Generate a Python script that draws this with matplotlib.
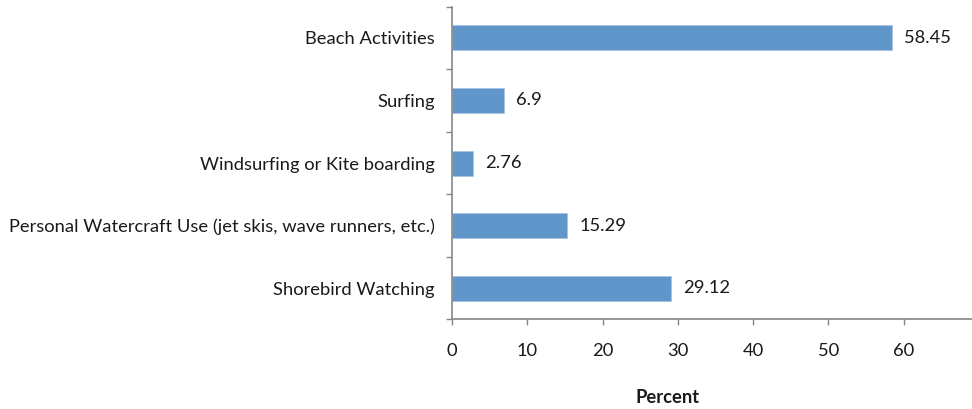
import matplotlib
matplotlib.use("Agg")
import matplotlib.pyplot as plt

# categories listed bottom to top
categories = [
    "Shorebird Watching",
    "Personal Watercraft Use (jet skis, wave runners, etc.)",
    "Windsurfing or Kite boarding",
    "Surfing",
    "Beach Activities",
]
values = [29.12, 15.29, 2.76, 6.9, 58.45]
value_labels = ["29.12", "15.29", "2.76", "6.9", "58.45"]
x_ticks = [0, 10, 20, 30, 40, 50, 60]

plt.rcParams['font.family'] = ['Lato', 'DejaVu Sans']
plt.rcParams['font.size'] = 13.2

bar_color = '#6096C9'
axis_color = '#868686'
text_color = '#1a1a1a'

fig = plt.figure(figsize=(9.72, 4.09), dpi=100)
ax = fig.add_axes([0.4653, 0.2193, 0.5347, 0.7643])

pos = list(range(len(categories)))
ax.barh(pos, values, height=0.4, color=bar_color, edgecolor='#a9c4e2', linewidth=0.6)

for p, v, lab in zip(pos, values, value_labels):
    ax.annotate(lab, (v, p), xytext=(12, 0), textcoords='offset pixels',
                va='center', ha='left', color=text_color)

ax.set_xlim(0, 69.1)
ax.set_ylim(-0.5, len(categories) - 0.5)
ax.set_xticks(x_ticks)
ax.set_xticklabels([str(t) for t in x_ticks])

# category ticks sit between bars
ax.set_yticks([p - 0.5 for p in pos] + [len(pos) - 0.5])
ax.set_yticklabels([])
ax.set_yticks(pos, minor=True)
ax.set_yticklabels(categories, minor=True)
ax.tick_params(axis='y', which='minor', length=0, pad=12.5, labelcolor=text_color)
ax.tick_params(axis='y', which='major', length=4.3, width=1, color=axis_color, direction='out')
ax.tick_params(axis='x', length=4.3, width=1, color=axis_color, pad=13, labelcolor=text_color)

for s in ['top', 'right']:
    ax.spines[s].set_visible(False)
for s in ['left', 'bottom']:
    ax.spines[s].set_color(axis_color)
    ax.spines[s].set_linewidth(1.2)

fig.text(668 / 972, 1 - 397.7 / 409, "Percent", ha='center', va='center',
         fontweight='bold', color=text_color)

fig.savefig("out.png", dpi=100)
